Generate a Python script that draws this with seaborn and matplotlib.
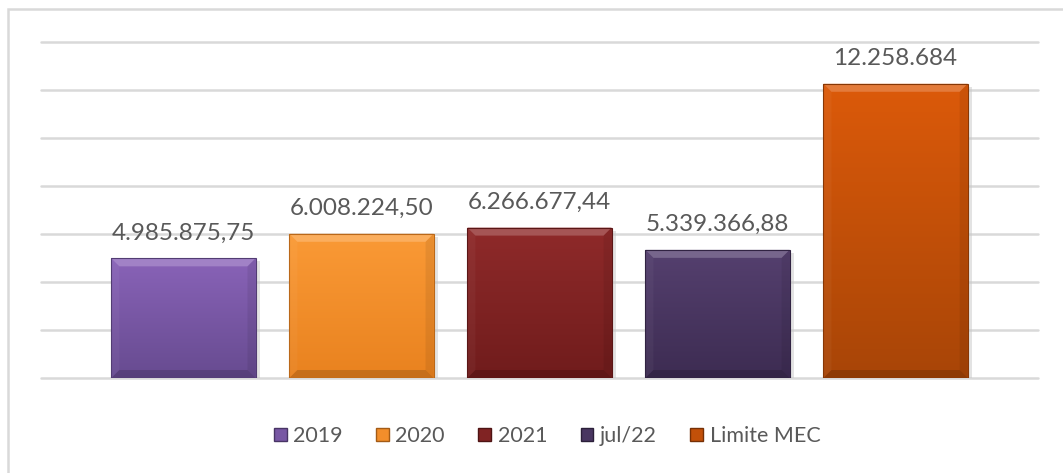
import numpy as np
import pandas as pd
import seaborn as sns
import matplotlib.pyplot as plt
from matplotlib.colors import to_rgb, LinearSegmentedColormap
from matplotlib.patches import Polygon, Patch, Rectangle

# data
categories = ['2019', '2020', '2021', 'jul/22', 'Limite MEC']
values = [4985875.75, 6008224.50, 6266677.44, 5339366.88, 12258684]
value_labels = ['4.985.875,75', '6.008.224,50', '6.266.677,44', '5.339.366,88', '12.258.684']
top_colors = ['#8963b8', '#fa9a36', '#8f2a2a', '#55406f', '#dc5a0a']
bottom_colors = ['#674b90', '#e9821f', '#701c1c', '#3d2c52', '#a84507']

sns.set_theme(style='white')
plt.rcParams['font.family'] = ['Lato', 'DejaVu Sans']

df = pd.DataFrame({'cat': categories, 'val': values})

fig = plt.figure(figsize=(10.63, 4.73), dpi=100)
ax = fig.add_axes([41 / 1063, 1 - 378 / 473, 997 / 1063, 336 / 473])

sns.barplot(data=df, x='cat', y='val', hue='cat', palette=bottom_colors,
            width=0.81, legend=False, ax=ax, linewidth=0)

ax.set_xlim(-0.8, 4.8)
ax.set_ylim(0, 14e6)
ax.set_yticks(np.arange(0, 14e6 + 1, 2e6))
ax.yaxis.grid(True, color='#d9d9d9', linewidth=1.8)
ax.set_axisbelow(True)
for gl in ax.get_ygridlines():
    gl.set_clip_on(False)
ax.tick_params(left=False, bottom=False, labelleft=False, labelbottom=False)
ax.set_xlabel('')
ax.set_ylabel('')
sns.despine(ax=ax, left=True, bottom=True)

# pixel -> data sizes for the bevel
px_x = 0.81 / 144
px_y = 14e6 / 336


def blend(c, other, t):
    c = np.array(to_rgb(c))
    return tuple(c + (np.array(to_rgb(other)) - c) * t)


for p, ct, cb, lab in zip(ax.patches, top_colors, bottom_colors, value_labels):
    x0, y0 = p.get_x(), p.get_y()
    w, h = p.get_width(), p.get_height()
    x1, y1 = x0 + w, y0 + h
    # soft shadow on the right
    ax.add_patch(Rectangle((x0 + 2 * px_x, y0), w + 2 * px_x, h - 3 * px_y,
                           facecolor='#c8c8c8', lw=0, alpha=0.5, zorder=1.5))
    cmap = LinearSegmentedColormap.from_list('g', [cb, ct])
    grad = np.linspace(0, 1, 256).reshape(-1, 1)
    im = ax.imshow(grad, cmap=cmap, aspect='auto', origin='lower',
                   extent=(x0, x1, y0, y1), zorder=2)
    im.set_clip_path(p)
    bx, by = 8 * px_x, 8 * px_y
    # bevel faces
    ax.add_patch(Polygon([(x0, y1), (x1, y1), (x1 - bx, y1 - by), (x0 + bx, y1 - by)],
                         closed=True, facecolor=blend(ct, 'white', 0.2), lw=0, zorder=3))
    ax.add_patch(Polygon([(x0, y1), (x0 + bx, y1 - by), (x0 + bx, y0 + by), (x0, y0)],
                         closed=True, facecolor='white', lw=0, zorder=3, alpha=0.04))
    ax.add_patch(Polygon([(x1, y1), (x1 - bx, y1 - by), (x1 - bx, y0 + by), (x1, y0)],
                         closed=True, facecolor='black', lw=0, zorder=3, alpha=0.07))
    ax.add_patch(Polygon([(x0, y0), (x0 + bx, y0 + by), (x1 - bx, y0 + by), (x1, y0)],
                         closed=True, facecolor='black', lw=0, zorder=3, alpha=0.15))
    ax.add_patch(Rectangle((x0, y0), w, h, fill=False,
                           edgecolor=blend(cb, 'black', 0.2), lw=0.8, zorder=4))
    ax.text(x0 + w / 2, y1 + 0.62e6, lab, ha='center', va='bottom',
            fontsize=17.5, color='#595959')
    p.set_zorder(1)

handles = [Patch(facecolor=blend(c1, c2, 0.5), edgecolor=blend(c2, 'black', 0.3), label=c)
           for c, c1, c2 in zip(categories, top_colors, bottom_colors)]
fig.legend(handles=handles, loc='center', bbox_to_anchor=(547 / 1063, 1 - 436 / 473),
           ncol=5, frameon=False, fontsize=15.5, labelcolor='#595959',
           handlelength=0.6, handleheight=0.6, handletextpad=0.3, columnspacing=1.55)

# outer chart border
fig.add_artist(Rectangle((8 / 1063, -0.01), 1.02, 1 - 9 / 473 + 0.01, transform=fig.transFigure,
                         fill=False, edgecolor='#d9d9d9', lw=1.8))

fig.savefig('out.png', dpi=100)
